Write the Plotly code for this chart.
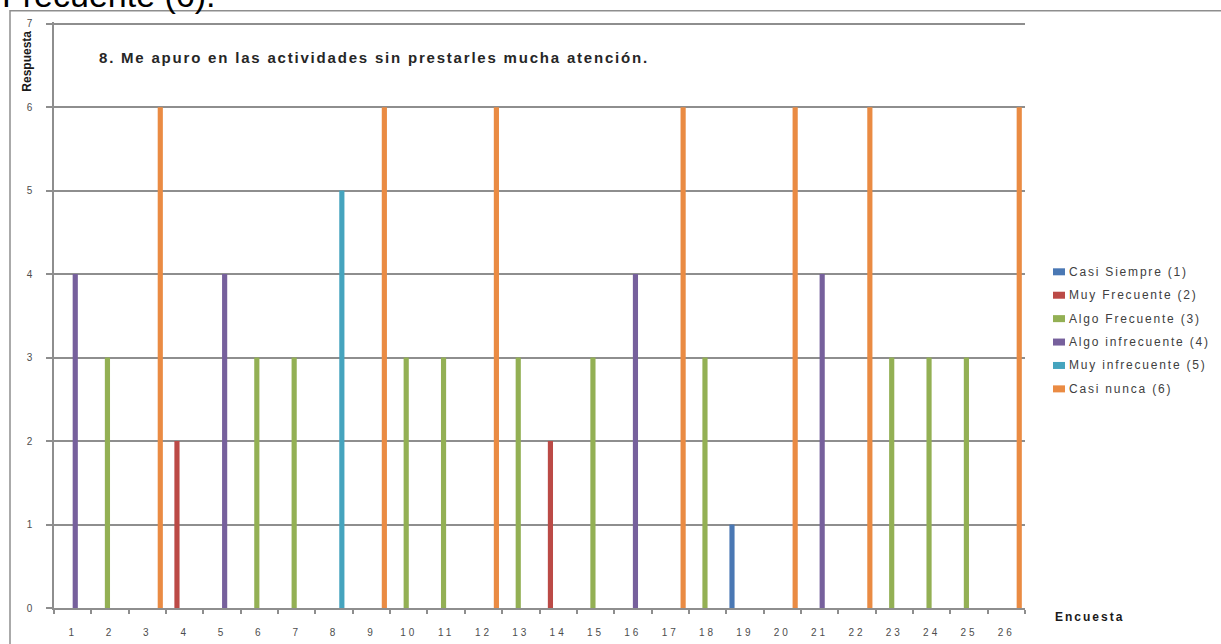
import plotly.graph_objects as go

# Survey responses: one answer (1-6) per respondent
encuestas = [str(i) for i in range(1, 27)]
respuestas = [4, 3, 6, 2, 4, 3, 3, 5, 6, 3, 3, 6, 3, 2, 3, 4, 6, 3, 1, 6, 4, 6, 3, 3, 3, 6]

series_names = [
    "Casi Siempre (1)",
    "Muy Frecuente (2)",
    "Algo Frecuente (3)",
    "Algo infrecuente (4)",
    "Muy infrecuente (5)",
    "Casi nunca (6)",
]
series_colors = ["#4a78b4", "#bb4a46", "#93b054", "#76609c", "#45a4be", "#ea8b43"]

y_ticks = list(range(0, 8))
y_max = 7.02  # a hair above 7 so the top gridline is kept

title_text = "8. Me apuro en las actividades sin prestarles mucha atención."

# Plot-area geometry in pixels (used to place decorations in paper coords)
W, H = 1221, 644
L, R, B = 54, 1025, 608
UNIT = (B - 24) / 7.0          # pixels per response unit
T = B - UNIT * y_max           # top edge of the plot area


def px(x):
    return (x - L) / (R - L)


def py(y):
    return (B - y) / (B - T)


def spaced(s, sp):
    return f'<span style="letter-spacing:{sp}px">{s}</span>'


fig = go.Figure()
for k, (name, color) in enumerate(zip(series_names, series_colors), start=1):
    vals = [v if v == k else None for v in respuestas]
    fig.add_trace(go.Bar(
        x=encuestas, y=vals, name=name,
        marker=dict(color=color, line=dict(width=0)),
        showlegend=False,
    ))

grid = "#8e8e8e"
fig.update_layout(
    width=W, height=H,
    margin=dict(l=L, r=W - R, t=T, b=H - B, autoexpand=False),
    paper_bgcolor="white", plot_bgcolor="white",
    barmode="group", bargap=0.17, bargroupgap=0.0,
    font=dict(family="Liberation Sans, Arial, sans-serif", color="#595959"),
    xaxis=dict(
        type="category", automargin=False,
        tickmode="array", tickvals=encuestas,
        ticktext=[spaced(c, 3) for c in encuestas],
        tickson="boundaries", ticks="outside", ticklen=4, tickwidth=1.5, tickcolor=grid,
        showline=True, linecolor=grid, linewidth=1.5,
        showgrid=False, tickfont=dict(size=10, color="#4d4d4d"),
        ticklabelstandoff=14,
        range=[-0.5, 25.5],
    ),
    yaxis=dict(
        automargin=False,
        range=[0, y_max], tickmode="array", tickvals=y_ticks,
        ticks="outside", ticklen=6, tickwidth=1.5, tickcolor=grid,
        showline=True, linecolor=grid, linewidth=1.5,
        showgrid=True, gridcolor=grid, gridwidth=1.5, zeroline=False,
        tickfont=dict(size=10, color="#4d4d4d"),
        ticklabelstandoff=12,
    ),
)

shapes = []
annotations = []

# Outer chart frame
shapes.append(dict(
    type="rect", xref="paper", yref="paper",
    x0=px(10), x1=px(W + 20), y0=py(H + 20), y1=py(11),
    line=dict(color=grid, width=1.5), fillcolor="rgba(0,0,0,0)", layer="below",
))

# Legend built from the series names and colors
for i, (name, color) in enumerate(zip(series_names, series_colors)):
    yc = 272 + 23.4 * i
    shapes.append(dict(
        type="rect", xref="paper", yref="paper",
        x0=px(1053), x1=px(1065), y0=py(yc + 3.5), y1=py(yc - 3.5),
        line=dict(width=0), fillcolor=color,
    ))
    annotations.append(dict(
        xref="paper", yref="paper", x=px(1067), y=py(yc),
        xanchor="left", yanchor="middle", showarrow=False,
        text=spaced(name, 1.8), font=dict(size=12, color="#404040"),
    ))

# Chart title inside the plot area
annotations.append(dict(
    xref="paper", yref="paper", x=px(97), y=py(58),
    xanchor="left", yanchor="middle", showarrow=False,
    text=spaced(title_text, 1.8),
    font=dict(size=15, color="#262626", weight="bold"),
))

# Axis titles
annotations.append(dict(
    xref="paper", yref="paper", x=px(27), y=py(62),
    xanchor="center", yanchor="middle", showarrow=False, textangle=-90,
    text="Respuesta", font=dict(size=12, color="#1a1a1a", weight="bold"),
))
annotations.append(dict(
    xref="paper", yref="paper", x=px(1053), y=py(617),
    xanchor="left", yanchor="middle", showarrow=False,
    text=spaced("Encuesta", 2), font=dict(size=12, color="#1a1a1a", weight="bold"),
))

# Tail of the preceding document text above the chart
annotations.append(dict(
    xref="paper", yref="paper", x=px(0), y=py(16),
    xanchor="left", yanchor="bottom", showarrow=False,
    text="Frecuente (6).", font=dict(size=34, color="#000000"),
))

fig.update_layout(shapes=shapes, annotations=annotations)
fig.write_html("out.html", config={"responsive": False, "displayModeBar": False})
